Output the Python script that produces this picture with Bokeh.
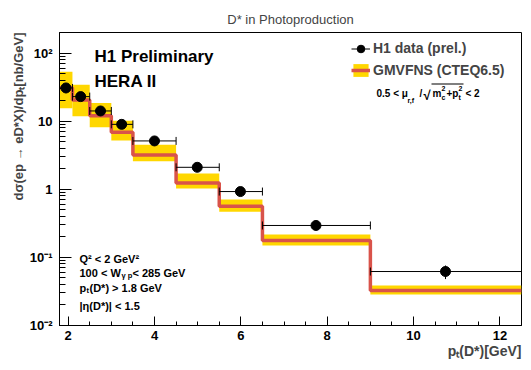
import numpy as np
from bokeh.plotting import figure
from bokeh.models import (Range1d, Label, Legend, LegendItem, SingleIntervalTicker,
                          CustomJSTickFormatter, BoxAnnotation, Title)
from bokeh.embed import file_html
from bokeh.resources import INLINE

# ---- data ----
bin_edges = [1.8, 2.1, 2.5, 3.0, 3.5, 4.5, 5.5, 6.5, 9.0, 12.5]
data_pt = [1.95, 2.29, 2.75, 3.24, 4.0, 4.99, 5.99, 7.74, 10.74]
data_xsec = [30.7, 22.9, 14.1, 8.97, 5.12, 2.10, 0.925, 0.294, 0.062]
data_err = [5.0, 2.5, 1.4, 0.8, 0.45, 0.2, 0.09, 0.035, 0.014]
theory = [31.0, 20.5, 12.0, 6.86, 3.19, 1.24, 0.564, 0.177, 0.0327]
theory_hi = [53.0, 34.3, 18.5, 10.1, 4.5, 1.70, 0.706, 0.217, 0.0387]
theory_lo = [15.4, 11.8, 8.1, 5.2, 2.57, 1.03, 0.467, 0.149, 0.0286]

YELLOW = "#ffd700"
RED = "#d9534a"
FONT = "Liberation Sans"

p = figure(width=531, height=370, x_range=Range1d(1.8, 12.5), y_range=Range1d(0.01, 200),
           y_axis_type="log", output_backend="svg", toolbar_location=None,
           min_border_left=59, min_border_right=10, min_border_top=32, min_border_bottom=45)
p.xgrid.visible = False
p.ygrid.visible = False
p.outline_line_color = "black"
p.outline_line_width = 1
p.outline_line_alpha = 1
p.background_fill_color = "white"

p.title.text = "D* in Photoproduction"
p.title.align = "center"
p.title.text_font = FONT
p.title.text_font_size = "13px"
p.title.text_font_style = "normal"
p.title.standoff = 11

lefts = bin_edges[:-1]
rights = bin_edges[1:]

band = p.quad(left=lefts, right=rights, bottom=theory_lo, top=theory_hi,
              fill_color=YELLOW, line_color=None)
step_x, step_y = [], []
for i in range(len(theory)):
    step_x += [lefts[i], rights[i]]
    step_y += [theory[i], theory[i]]
red = p.line(step_x, step_y, line_color=RED, line_width=3.5)

hseg = p.segment(x0=lefts, y0=data_xsec, x1=rights, y1=data_xsec, line_color="black", line_width=1)
ylo = [v - e for v, e in zip(data_xsec, data_err)]
yhi = [v + e for v, e in zip(data_xsec, data_err)]
p.segment(x0=data_pt, y0=ylo, x1=data_pt, y1=yhi, line_color="black", line_width=1)
p.scatter(x=lefts + rights, y=data_xsec + data_xsec, marker="dash", angle=np.pi / 2,
          size=8, line_color="black", line_width=1)
pts = p.scatter(data_pt, data_xsec, size=10, fill_color="black", line_color="black")

# ---- axes ----
p.xaxis.ticker = SingleIntervalTicker(interval=2, num_minor_ticks=4)
for ax in (p.xaxis, p.yaxis):
    ax.axis_line_color = "black"
    ax.major_tick_out = 0
    ax.minor_tick_out = 0
    ax.major_label_text_font = FONT
    ax.major_label_text_font_style = "bold"
    ax.major_label_text_font_size = "13px"
    ax.major_label_text_color = "black"
    ax.major_tick_line_color = "black"
    ax.minor_tick_line_color = "black"
p.xaxis.major_tick_in = 9
p.xaxis.minor_tick_in = 4
p.xaxis.major_label_standoff = 5
p.yaxis.major_tick_in = 12
p.yaxis.minor_tick_in = 6
p.yaxis.major_label_standoff = 7
p.yaxis.formatter = CustomJSTickFormatter(code="""
const e = Math.round(Math.log10(tick));
if (e == 0) return "1";
if (e == 1) return "10";
const sup = {"-2": "\u207b\u00b2", "-1": "\u207b\u00b9", "2": "\u00b2", "3": "\u00b3"};
return "10" + sup[String(e)];
""")

# axis titles (ROOT style: aligned to the far end of the axis)
p.add_layout(Title(text="d\u03c3(ep \u2192 eD*X)/dp\u209c[nb/GeV]", align="right",
                   text_font=FONT, text_font_size="13px", text_font_style="bold",
                   standoff=2), "left")
p.add_layout(Title(text="p\u209c(D*)[GeV]", align="right",
                   text_font=FONT, text_font_size="14px", text_font_style="bold",
                   standoff=-4), "below")

# ---- texts (screen coordinates relative to frame bottom-left) ----
FL, FB = 59, 325


def lab(text, px, py, size, bold=False, align="left", baseline="alphabetic", angle=0.0):
    p.add_layout(Label(x=px - FL, y=FB - py, x_units="screen", y_units="screen", text=text,
                       text_font=FONT, text_font_size=f"{size}px",
                       text_font_style="bold" if bold else "normal", text_color="black",
                       text_align=align, text_baseline=baseline, angle=angle))


lab("H1 Preliminary", 94, 56, 17, bold=True)
lab("HERA II", 94, 81, 17, bold=True)

# formula
lab("0.5 < \u03bc", 376, 93, 10, bold=True)
lab("r,f", 407, 100, 7, bold=True)
lab("/", 419, 93, 10, bold=True)
lab("\u221a", 423, 95, 13, bold=True)
lab("m", 432, 93, 10, bold=True)
lab("2", 441, 88, 7, bold=True)
lab("c", 441, 97, 7, bold=True)
lab("+p", 446, 93, 10, bold=True)
lab("2", 458, 88, 7, bold=True)
lab("t", 458, 97, 7, bold=True)
lab("< 2", 465, 93, 10, bold=True)
p.add_layout(BoxAnnotation(left=431 - FL, right=463 - FL, top=FB - 83, bottom=FB - 84,
                           left_units="screen", right_units="screen",
                           top_units="screen", bottom_units="screen",
                           fill_color="black", fill_alpha=1, line_alpha=0))

# cuts
lab("Q\u00b2 < 2 GeV\u00b2", 79, 258, 11, bold=True)
lab("100 < W", 79, 272, 11, bold=True)
lab("\u03b3 p", 121, 275, 7.5, bold=True)
lab("< 285 GeV", 132, 272, 11, bold=True)
lab("p", 79, 287, 11, bold=True)
lab("t", 86, 290, 7.5, bold=True)
lab("(D*) > 1.8 GeV", 89, 287, 11, bold=True)
lab("|\u03b7(D*)| < 1.5", 79, 305, 11, bold=True)

# ---- legends ----
common = dict(background_fill_alpha=0, border_line_alpha=0, padding=0, margin=0,
              label_standoff=3, label_text_font=FONT, label_text_font_style="bold",
              label_text_font_size="14px", spacing=0, glyph_width=19, label_height=16)
leg1 = Legend(items=[LegendItem(label="H1 data (prel.)", renderers=[hseg, pts])],
              location=(351 - FL, FB - 59.5), glyph_height=23, **common)
leg2 = Legend(items=[LegendItem(label="GMVFNS (CTEQ6.5)", renderers=[band, red])],
              location=(351 - FL, FB - 78), glyph_height=16, **common)
p.add_layout(leg1)
p.add_layout(leg2)

open("out.html", "w").write(file_html(p, INLINE))
